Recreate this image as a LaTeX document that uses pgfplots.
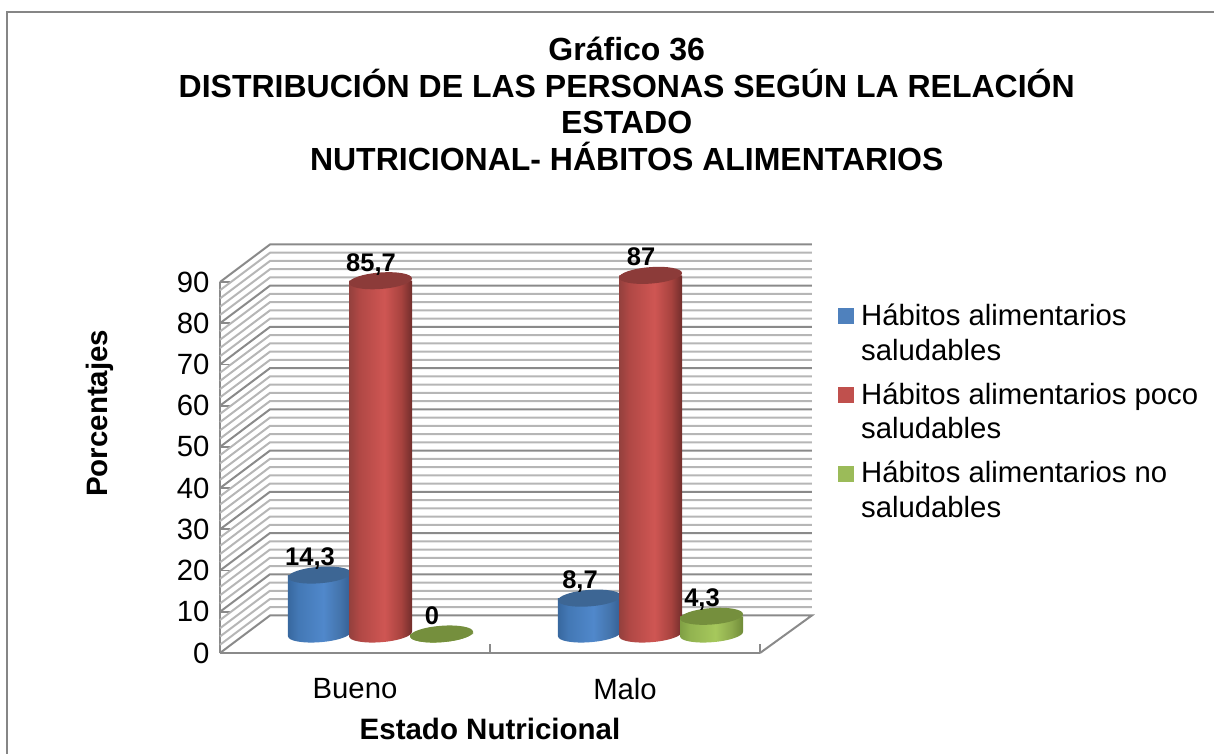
\documentclass[border=0pt]{standalone}
\usepackage{pgfplots}
\usepackage{pgfplotstable}
\pgfplotsset{compat=1.18}
\usepackage{fontspec}
\setmainfont{Liberation Sans}
\definecolor{gmaj}{HTML}{8A8A8A}
\definecolor{gmin}{HTML}{B6B6B6}
\definecolor{gfr}{HTML}{868686}
\definecolor{r1}{HTML}{93403D}\definecolor{r2}{HTML}{B04845}\definecolor{r3}{HTML}{CF5653}\definecolor{r4}{HTML}{A8433F}\definecolor{r5}{HTML}{6F2D2B}
\definecolor{b1}{HTML}{38689F}\definecolor{b2}{HTML}{4378B5}\definecolor{b3}{HTML}{5088CB}\definecolor{b4}{HTML}{4474AC}\definecolor{b5}{HTML}{345E92}
\definecolor{g1}{HTML}{7F9F44}\definecolor{g2}{HTML}{92B350}\definecolor{g3}{HTML}{A6C85C}\definecolor{g4}{HTML}{8CA94C}\definecolor{g5}{HTML}{6F8A38}
\definecolor{rtop}{HTML}{8C3B39}\definecolor{btop}{HTML}{3D6694}\definecolor{gtop}{HTML}{758F3D}
\definecolor{rleg}{HTML}{C0504D}\definecolor{bleg}{HTML}{4F81BD}\definecolor{gleg}{HTML}{9BBB59}
\pgfdeclarehorizontalshading{rcyl}{100bp}{color(0bp)=(r1);color(25bp)=(r1);color(33bp)=(r2);color(53bp)=(r3);color(66bp)=(r4);color(75bp)=(r5);color(100bp)=(r5)}
\pgfdeclarehorizontalshading{bcyl}{100bp}{color(0bp)=(b1);color(25bp)=(b1);color(33bp)=(b2);color(53bp)=(b3);color(66bp)=(b4);color(75bp)=(b5);color(100bp)=(b5)}
\pgfdeclarehorizontalshading{gcyl}{100bp}{color(0bp)=(g1);color(25bp)=(g1);color(33bp)=(g2);color(53bp)=(g3);color(66bp)=(g4);color(75bp)=(g5);color(100bp)=(g5)}
\newcommand{\drawcyl}[2]{%
  \pgfmathsetmacro\cylh{\barval*4.1222}%
  \pgfmathsetmacro\cylb{19-\cylh}%
  \begin{pgfscope}
    \pgfpathmoveto{\pgfpoint{-6pt}{19pt}}
    \pgfpathlineto{\pgfpoint{-6pt}{\cylb pt-2.4pt}}
    \pgfpathcurveto{\pgfpoint{-5.67pt}{\cylb pt-6.93pt}}{\pgfpoint{8.7pt}{\cylb pt-9.53pt}}{\pgfpoint{26.1pt}{\cylb pt-8.2pt}}
    \pgfpathcurveto{\pgfpoint{43.5pt}{\cylb pt-6.87pt}}{\pgfpoint{57.33pt}{\cylb pt-2.13pt}}{\pgfpoint{57pt}{\cylb pt+2.4pt}}
    \pgfpathlineto{\pgfpoint{57pt}{19pt}}
    \pgfpathclose
    \pgfshadepath{#1}{0}
    \pgfusepath{discard}
  \end{pgfscope}
  \begin{pgfscope}
    \pgfsetfillcolor{#2}
    \pgfpathellipse{\pgfpoint{25.5pt}{19pt}}{\pgfpoint{31.5pt}{2.4pt}}{\pgfpoint{-0.6pt}{8.2pt}}
    \pgfusepath{fill}
  \end{pgfscope}
}
\pgfplotsset{cyl/.style n args={2}{nodes near coords,only marks,mark=none,forget plot,
    visualization depends on={rawy \as \barval},
    scatter/@pre marker code/.code={\drawcyl{#1}{#2}},
    point meta=y,
    every node near coord/.append style={anchor=base,xshift=16pt,yshift=28.5pt,font=\fontsize{25.5}{28}\selectfont\bfseries,text=black,inner sep=0pt},
    /pgf/number format/.cd,fixed,precision=1,use comma,assume math mode=true}}
\pgfplotstableread{
x y
0.274 14.3
1.274 8.7
}\saludables
\pgfplotstableread{
x y
0.5 85.7
1.5 87
}\poco
\pgfplotstableread{
x y
0.726 0
1.726 4.3
}\nosaludables
\pgfplotstableread{
x y
0 0
0.185 9.1
2.192 9.1
}\gridpath
\begin{document}
\begin{tikzpicture}[x=1pt,y=1pt]
\path[use as bounding box] (0,0) rectangle (1214,753);
\draw[gfr,line width=2pt] (7,-3) -- (7,741) -- (1217,741);
\begin{axis}[
  at={(220pt,100pt)},anchor=south west,scale only axis,width=540pt,height=371pt,
  xmin=0,xmax=2,ymin=0,ymax=90,clip=false,
  axis x line*=bottom,axis y line*=left,
  axis line style={gmaj,line width=1.8pt,-},
  tick style={gmaj,line width=1.8pt},
  major tick length=9.5pt,
  xtick={0,1,2},xticklabels={},
  extra x ticks={0.5,1.5},extra x tick labels={Bueno,Malo},
  extra x tick style={major tick length=0pt,tick label style={yshift=-22pt}},
  ytick={0,10,...,90},
  tick label style={font=\fontsize{29.3}{33}\selectfont,text=black},
  yticklabel style={xshift=-7pt},
  /pgf/number format/assume math mode=true,
  xlabel={Estado Nutricional},
  xlabel style={at={(axis description cs:0.5,0)},anchor=base,yshift=-86pt,font=\fontsize{29.5}{33}\selectfont\bfseries},
  ylabel={Porcentajes},
  ylabel style={at={(axis description cs:0,0.646)},rotate=0,anchor=base,yshift=113pt,xshift=0pt,font=\fontsize{29.5}{33}\selectfont\bfseries},
  title={Gráfico 36\\DISTRIBUCIÓN DE LAS PERSONAS SEGÚN LA RELACIÓN\\ESTADO\\NUTRICIONAL- HÁBITOS ALIMENTARIOS},
  title style={at={(axis description cs:0.7532,1)},anchor=south,align=center,yshift=102pt,font=\fontsize{32}{36.5}\selectfont\bfseries},
  legend style={at={(axis cs:2.287,85.2)},anchor=north west,draw=none,fill=none,
    nodes={align=left,anchor=base west,font=\fontsize{29.3}{34.5}\selectfont},row sep=17pt,column sep=6pt,inner sep=0pt},
  legend cell align=left,
]
% side wall and back wall grid
\pgfplotsinvokeforeach{2,4,6,8,12,14,16,18,22,24,26,28,32,34,36,38,42,44,46,48,52,54,56,58,62,64,66,68,72,74,76,78,82,84,86,88}{
  \addplot[gmin,line width=2pt,forget plot] table[x=x,y expr=\thisrow{y}+#1]{\gridpath};
}
\pgfplotsinvokeforeach{10,20,...,90}{
  \addplot[gmaj,line width=2pt,forget plot] table[x=x,y expr=\thisrow{y}+#1]{\gridpath};
}
% floor
\addplot[gmaj,line width=2pt,forget plot] coordinates {(0,0)(0.185,9.1)(2.192,9.1)(2,0)};
% cylinders
\addplot[cyl={bcyl}{btop}] table[x=x,y=y]{\saludables};
\addplot[cyl={rcyl}{rtop}] table[x=x,y=y]{\poco};
\addplot[cyl={gcyl}{gtop}] table[x=x,y=y]{\nosaludables};
% legend
\addlegendimage{legend image code/.code={\fill[bleg] (0pt,36.5pt) rectangle (15pt,51.5pt);}}
\addlegendentry{Hábitos alimentarios\\saludables}
\addlegendimage{legend image code/.code={\fill[rleg] (0pt,36.5pt) rectangle (15pt,51.5pt);}}
\addlegendentry{Hábitos alimentarios poco\\saludables}
\addlegendimage{legend image code/.code={\fill[gleg] (0pt,36.5pt) rectangle (15pt,51.5pt);}}
\addlegendentry{Hábitos alimentarios no\\saludables}
\end{axis}
\end{tikzpicture}
\end{document}
